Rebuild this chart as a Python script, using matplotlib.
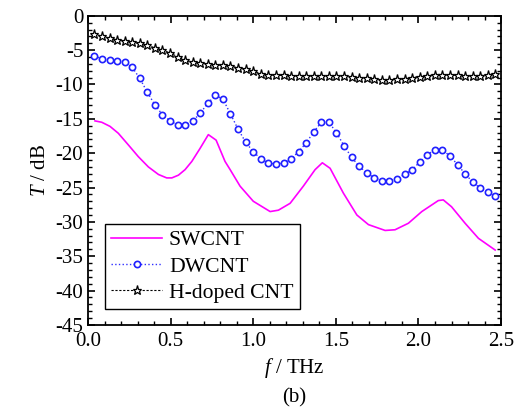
import numpy as np
import matplotlib.pyplot as plt

plt.rcParams['font.family'] = 'Liberation Serif'
plt.rcParams['mathtext.fontset'] = 'custom'
plt.rcParams['mathtext.it'] = 'Liberation Serif:italic'
plt.rcParams['mathtext.rm'] = 'Liberation Serif'

# SWCNT (solid line)
f_sw = [0.042, 0.083, 0.133, 0.183, 0.244, 0.304, 0.365, 0.426, 0.476, 0.507,
        0.547, 0.587, 0.628, 0.678, 0.728, 0.775, 0.829, 0.860, 0.920, 1.000,
        1.102, 1.152, 1.223, 1.303, 1.374, 1.418, 1.465, 1.545, 1.627, 1.697,
        1.798, 1.858, 1.939, 2.020, 2.120, 2.150, 2.200, 2.282, 2.363, 2.464]
T_sw = [-15.3, -15.5, -16.1, -17.1, -18.8, -20.5, -22.0, -23.1, -23.6, -23.6,
        -23.2, -22.4, -21.2, -19.3, -17.3, -18.1, -21.2, -22.4, -24.8, -27.0,
        -28.5, -28.3, -27.3, -24.8, -22.4, -21.4, -22.2, -25.8, -29.0, -30.4,
        -31.25, -31.15, -30.2, -28.5, -26.9, -26.8, -27.8, -30.2, -32.4, -34.1]

# common frequency grid for DWCNT and H-doped CNT
f = [0.038, 0.084, 0.130, 0.175, 0.221, 0.267, 0.313, 0.358, 0.404, 0.450,
     0.496, 0.542, 0.587, 0.633, 0.679, 0.725, 0.771, 0.816, 0.862, 0.908,
     0.954, 1.000, 1.045, 1.091, 1.137, 1.183, 1.229, 1.274, 1.320, 1.366,
     1.412, 1.458, 1.503, 1.549, 1.595, 1.641, 1.687, 1.733, 1.778, 1.824,
     1.870, 1.916, 1.962, 2.007, 2.053, 2.099, 2.145, 2.191, 2.237, 2.282,
     2.328, 2.374, 2.420, 2.466]

T_dw = [-5.8, -6.3, -6.5, -6.55, -6.7, -7.5, -9.1, -11.1, -12.95, -14.4,
        -15.3, -15.9, -15.9, -15.3, -14.2, -12.7, -11.6, -12.1, -14.3, -16.5,
        -18.4, -19.8, -20.8, -21.4, -21.6, -21.4, -20.8, -19.8, -18.5, -16.9,
        -15.5, -15.5, -17.0, -18.9, -20.6, -21.9, -22.9, -23.6, -24.0, -24.0,
        -23.7, -23.1, -22.4, -21.3, -20.2, -19.55, -19.55, -20.4, -21.7, -23.0,
        -24.2, -25.1, -25.7, -26.2]

T_h = [-2.67, -2.96, -3.25, -3.49, -3.69, -3.88, -4.03, -4.3, -4.65, -5.0,
       -5.4, -5.95, -6.5, -6.75, -6.9, -7.0, -7.1, -7.2, -7.35, -7.55,
       -7.8, -8.1, -8.4, -8.55, -8.65, -8.68, -8.7, -8.7, -8.72, -8.73,
       -8.73, -8.73, -8.75, -8.8, -8.9, -9.0, -9.1, -9.2, -9.3, -9.3,
       -9.25, -9.15, -9.0, -8.85, -8.7, -8.6, -8.55, -8.6, -8.68, -8.72,
       -8.72, -8.7, -8.6, -8.4]

fig = plt.figure(figsize=(5.15, 4.16), dpi=100)
ax = fig.add_axes([0.171, 0.219, 0.802, 0.743])

ax.plot(f_sw, T_sw, '-', color='#ff00ff', lw=1.2, label='SWCNT')
ax.plot(f, T_dw, ':', color='#3030ff', lw=1.0, marker='o', ms=4.5,
        mfc='white', mec='#2020ff', mew=1.2, label='DWCNT')
ax.plot(f, T_h, '--', color='black', lw=0.8, dashes=(2, 1.5), marker='*', ms=6.5,
        mfc='white', mec='black', mew=0.9, label='H-doped CNT')

ax.set_xlim(0, 2.5)
ax.set_ylim(-45, 0)
ax.set_xticks(np.arange(0, 2.51, 0.5))
ax.set_xticks(np.arange(0, 2.51, 0.1), minor=True)
ax.set_yticks(np.arange(-45, 0.1, 5))
ax.set_yticks(np.arange(-45, 0.1, 1), minor=True)
ax.set_xticklabels(['0.0', '0.5', '1.0', '1.5', '2.0', '2.5'])
ax.set_yticklabels(['-45', '-40', '-35', '-30', '-25', '-20', '-15', '-10', '-5', '0'])
ax.tick_params(which='both', direction='in', top=True, right=True, labelsize=15)
ax.tick_params(which='major', length=5, width=1.2)
ax.tick_params(which='minor', length=3, width=1.0)
ax.tick_params(axis='x', pad=5)
for s in ax.spines.values():
    s.set_linewidth(1.3)

ax.set_xlabel('$f$ / THz', fontsize=15, labelpad=4)
ax.set_ylabel('$T$ / dB', fontsize=15, labelpad=4)
ax.text(0.5, -0.235, '(b)', transform=ax.transAxes, ha='center', va='center', fontsize=15)

leg = ax.legend(loc='lower left', bbox_to_anchor=(0.041, 0.05), borderaxespad=0,
                fontsize=15.6, fancybox=False, edgecolor='black', framealpha=1,
                handlelength=2.35, handletextpad=0.3, borderpad=0.3,
                labelspacing=0.28)
leg.get_frame().set_linewidth(1.0)

plt.savefig('out.png', dpi=100)
